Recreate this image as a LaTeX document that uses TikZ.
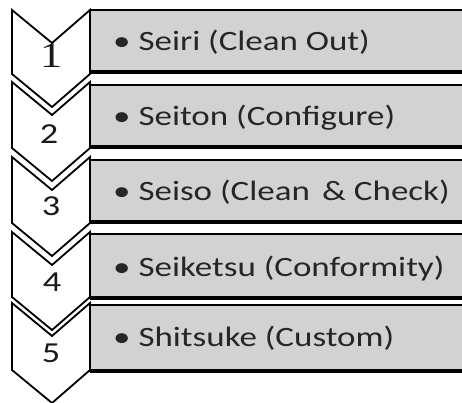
\documentclass[tikz,border=0pt]{standalone}
\usepackage{fontspec}
\setmainfont{Carlito}
\newfontfamily\numserif{Liberation Serif}
\newcommand{\wide}[1]{\scalebox{1.25}[1]{#1}}
\begin{document}
\begin{tikzpicture}[x=1pt,y=-1pt,
  chev/.style={fill=white,draw=black,line width=1.8pt,line join=miter},
  bar/.style={fill=gray!35,draw=black,line width=1.4pt},
  lbl/.style={anchor=base west,inner sep=0pt,font=\fontsize{28}{30}\selectfont,text=black!85},
  num/.style={anchor=base,inner sep=0pt,font=\fontsize{29}{31}\selectfont,text=black!90}]
\useasboundingbox (0,0) rectangle (462,402);
% boxes
\foreach \t/\b in {10/72,85/147,160/222,234/298,305/371}{
  \path[bar] (90,\t) rectangle (470,\b);
  \draw[line width=3.5pt] (90,\b) -- (470,\b);
}
% chevrons drawn bottom to top
\foreach \t/\b in {303/370,232/297,157/223,82/148,10/74}{
  \path[chev] (12,\t) -- (52,\t+33) -- (90,\t) -- (90,\b) -- (52,\b+33) -- (12,\b) -- cycle;
}
\node[num,font=\fontsize{36}{38}\selectfont\numserif] (n1) at (51,67) {\wide{1}};
\node[num] (n2) at (49,143) {\wide{2}};
\node[num] (n3) at (51,215) {\wide{3}};
\node[num] (n4) at (52,291) {\wide{4}};
\node[num] (n5) at (51,362) {\wide{5}};
\node[lbl] (t1) at (113,50) {\wide{• Seiri (Clean Out)}};
\node[lbl] (t2) at (113,125) {\wide{• Seiton (Configure)}};
\node[lbl] (t3) at (113,200) {\wide{• Seiso (Clean\hspace{0.35em}\& Check)}};
\node[lbl] (t4) at (113,276) {\wide{• Seiketsu (Conformity)}};
\node[lbl] (t5) at (113,346) {\wide{• Shitsuke (Custom)}};
\end{tikzpicture}
\end{document}
